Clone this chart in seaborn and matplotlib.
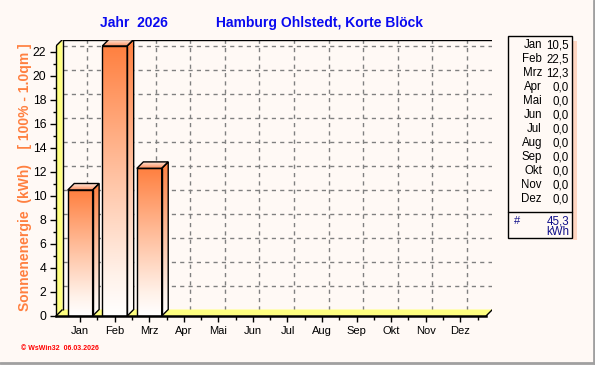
import numpy as np
import matplotlib
matplotlib.use("Agg")
import matplotlib.pyplot as plt
import seaborn as sns
from matplotlib.patches import Polygon, Rectangle
from matplotlib.colors import LinearSegmentedColormap

# ---------------- data ----------------
months = ['Jan', 'Feb', 'Mrz', 'Apr', 'Mai', 'Jun', 'Jul', 'Aug', 'Sep', 'Okt', 'Nov', 'Dez']
values = [10.5, 22.5, 12.3, 0, 0, 0, 0, 0, 0, 0, 0, 0]
y_ticks = list(range(0, 23, 2))
title_year = 'Jahr  2026'
title_station = 'Hamburg Ohlstedt, Korte Blöck'
y_label = 'Sonnenenergie  (kWh)    [ 100% - 1.0qm ]'
unit = 'kWh'
footer = '© WsWin32  06.03.2026'

# ---------------- style ----------------
sns.set_style('white')
plt.rcParams['font.family'] = ['Liberation Sans', 'DejaVu Sans']

BG = '#FFF9F5'
YELLOW = '#FFFF80'
ORANGE = '#FF8040'
BLUE = '#0A0AF0'
NAVY = '#10108A'
GRID = '#808080'

W, H = 595, 365
fig = plt.figure(figsize=(W / 100, H / 100), dpi=100, facecolor=BG)

# overlay axes in pixel coords (behind)
bg = fig.add_axes([0, 0, 1, 1])
bg.set_xlim(0, W)
bg.set_ylim(H, 0)
bg.axis('off')
bg.set_zorder(0)

SX, SY, D = 34.55, 12.0, 6.5
X0 = -0.70
X1 = X0 + 430 / SX
YMAX = 22.5
dx, dy = D / SX, D / SY

ax = fig.add_axes([56 / W, (H - 316) / H, (430 + D) / W, (270 + D) / H])
ax.set_zorder(1)
ax.patch.set_alpha(0)

sns.barplot(x=months, y=values, order=months, ax=ax, color='white', width=0.72,
            edgecolor='black', linewidth=1, errorbar=None, zorder=6)
bars = list(ax.patches)

front_cmap = LinearSegmentedColormap.from_list(
    'front', [(0, '#FFFFFF'), (0.15, '#FFF2EA'), (0.55, '#FFBE9C'), (1, ORANGE)])
top_cmap = LinearSegmentedColormap.from_list(
    'top', [(0, '#FFF0E6'), (1, '#FF9060')])
grad = np.linspace(0, 1, 256).reshape(-1, 1)

# back wall
ax.add_patch(Rectangle((X0 + dx, dy), X1 - X0, YMAX, facecolor=BG, edgecolor='none', zorder=0.5))
# left wall
ax.add_patch(Polygon([(X0, 0), (X0 + dx, dy), (X0 + dx, YMAX + dy), (X0, YMAX)],
                     closed=True, facecolor=YELLOW, edgecolor='none', zorder=1))
# floor
ax.add_patch(Polygon([(X0, 0), (X1, 0), (X1 + dx, dy), (X0 + dx, dy)],
                     closed=True, facecolor=YELLOW, edgecolor='none', zorder=1))
# grid on back wall
for v in y_ticks[1:]:
    ax.plot([X0 + dx, X1 + dx], [v + dy, v + dy], color=GRID, lw=1, ls=(0, (3, 3)), zorder=0.8)
for i in range(len(months)):
    ax.plot([i + dx, i + dx], [dy, YMAX + dy], color=GRID, lw=1, ls=(0, (3, 3)), zorder=0.8)
# wall edges
edge_kw = dict(color='black', lw=1, zorder=2, solid_capstyle='butt')
ax.plot([X0 + dx, X0 + dx, X1 + dx, X1 + dx], [dy, YMAX + dy, YMAX + dy, dy], **edge_kw)
ax.plot([X0, X0 + dx], [YMAX, YMAX + dy], **edge_kw)
ax.plot([X0, X0 + dx], [0, dy], **edge_kw)
ax.plot([X1, X1 + dx], [0, dy], **edge_kw)

# 3D bars
for k, b in enumerate(bars):
    h = b.get_height()
    b.set_facecolor('none')
    if h <= 0:
        b.set_visible(False)
        continue
    x, w = b.get_x(), b.get_width()
    z = 3 + k * 0.1
    ax.imshow(grad, extent=[x, x + w, 0, h], origin='lower', aspect='auto',
              cmap=front_cmap, interpolation='bilinear', zorder=z)
    side = Polygon([(x + w, 0), (x + w + dx, dy), (x + w + dx, h + dy), (x + w, h)], closed=True,
                   facecolor='none', edgecolor='black', lw=1, zorder=z + 0.05)
    ax.add_patch(side)
    ims = ax.imshow(grad, extent=[x + w, x + w + dx, 0, h + dy], origin='lower', aspect='auto',
                    cmap=front_cmap, interpolation='bilinear', zorder=z)
    ims.set_clip_path(side)
    top = Polygon([(x, h), (x + w, h), (x + w + dx, h + dy), (x + dx, h + dy)], closed=True,
                  facecolor='none', edgecolor='black', lw=1, zorder=z + 0.05)
    ax.add_patch(top)
    imt = ax.imshow(grad[::-1], extent=[x, x + w + dx, h, h + dy], origin='lower', aspect='auto',
                    cmap=top_cmap, interpolation='bilinear', zorder=z)
    imt.set_clip_path(top)
    b.set_zorder(z + 0.06)

ax.set_xlim(X0, X1 + dx)
ax.set_ylim(0, YMAX + dy)
ax.set_xlabel('')
ax.set_ylabel('')
ax.set_yticks(y_ticks)
ax.set_yticks(range(0, 23), minor=True)
ax.set_xticks(range(len(months)))
ax.set_xticklabels(months)
ax.set_xticks(np.arange(0.5, 11.6, 1.0), minor=True)
for s in ['top', 'right']:
    ax.spines[s].set_visible(False)
ax.spines['left'].set_bounds(0, YMAX)
ax.spines['bottom'].set_bounds(X0, X1)
ax.spines['left'].set_linewidth(1)
ax.spines['bottom'].set_linewidth(1.8)
ax.spines['left'].set_color('black')
ax.spines['bottom'].set_color('black')
ax.spines['left'].set_zorder(7)
ax.spines['bottom'].set_zorder(7)
ax.tick_params(axis='both', which='both', direction='out', color='black', width=1,
               labelcolor='black', left=True, bottom=True)
ax.tick_params(axis='y', which='major', length=4, pad=3, labelsize=8.8)
ax.tick_params(axis='y', which='minor', length=2)
ax.tick_params(axis='x', which='major', length=4, pad=3.5, labelsize=8)
ax.tick_params(axis='x', which='minor', length=3)
ax.grid(False)

# titles
bg.text(100, 23, title_year, color=BLUE, fontsize=10, fontweight='bold', ha='left', va='center')
bg.text(216, 23, title_station, color=BLUE, fontsize=10, fontweight='bold', ha='left', va='center')

# y label
bg.text(25.5, 177, y_label, color=ORANGE, fontsize=10, fontweight='bold', rotation=90,
        ha='center', va='center')

# summary box
LX0, LX1, LY0, LY1 = 508, 572, 36, 238
bg.add_patch(Rectangle((LX1 + 1, LY0 + 5), 4, LY1 - LY0 - 3, facecolor='#FFD6C2', edgecolor='none'))
bg.add_patch(Rectangle((LX0, LY0), LX1 - LX0, LY1 - LY0, facecolor=BG, edgecolor='black', lw=1))
for i, (m, v) in enumerate(zip(months, values)):
    yy = 45 + 14 * i
    bg.text(542, yy, m, fontsize=8.3, ha='right', va='center', color='black')
    bg.text(569, yy, f'{v:.1f}'.replace('.', ','), fontsize=8.3, ha='right', va='center', color='black')
bg.plot([LX0, LX1], [212, 212], color='black', lw=1)
bg.text(514, 221, '#', fontsize=8, ha='left', va='center', color=NAVY)
bg.text(569, 221, f'{sum(values):.1f}'.replace('.', ','), fontsize=8.3, ha='right', va='center', color=NAVY)
bg.text(569, 232, unit, fontsize=8.3, ha='right', va='center', color=NAVY)

# footer
bg.text(21, 348, footer, color='#FF0000', fontsize=5, fontweight='bold', ha='left', va='center')

# frame lines
bg.plot([594, 594], [0, 363], color='#A0A0A0', lw=2)
bg.plot([0, 594], [363, 363], color='#A0A0A0', lw=2)

fig.savefig('out.png', dpi=100, facecolor=BG)
